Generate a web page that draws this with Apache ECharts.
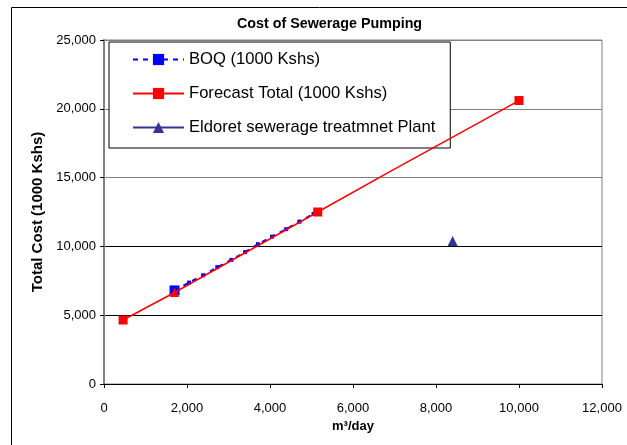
<!DOCTYPE html>
<html>
<head>
<meta charset="utf-8">
<script src="https://cdn.jsdelivr.net/npm/echarts@6/dist/echarts.min.js"></script>
<style>html,body{margin:0;padding:0;background:#fff;}#c{width:627px;height:445px;}</style>
</head>
<body>
<div id="c"></div>
<script>
// ---- data ----
var titleText = 'Cost of Sewerage Pumping';
var xAxisName = 'm³/day';
var yAxisName = 'Total Cost (1000 Kshs)';
var seriesNames = ['BOQ (1000 Kshs)', 'Forecast Total (1000 Kshs)', 'Eldoret sewerage treatmnet Plant'];
var boqX = [1700, 2050, 2390, 2730, 3070, 3400, 3710, 4050, 4390, 4710, 5050];
var boqY = [6800, 7370, 7900, 8490, 9020, 9580, 10160, 10710, 11250, 11800, 12360];
var forecastX = [460, 1700, 5150, 6900, 10000];
var forecastY = [4650, 6650, 12500, 15450, 20600];
var forecastMarked = [true, true, true, false, true];
var eldoretX = [8400];
var eldoretY = [10400];
var xTicks = [0, 2000, 4000, 6000, 8000, 10000, 12000];
var yTicks = [0, 5000, 10000, 15000, 20000, 25000];

function fmt(v){ return String(v).replace(/\B(?=(\d{3})+(?!\d))/g, ','); }
function pairs(xs, ys){ return xs.map(function(x,i){ return [x, ys[i]]; }); }

var FONT = '"Liberation Sans", Arial, sans-serif';
var chart = echarts.init(document.getElementById('c'), null, {renderer:'canvas'});

var boqData = pairs(boqX, boqY).map(function(p, i){
  return {value: p, symbolSize: i === 0 ? 10 : 4};
});
var fcData = pairs(forecastX, forecastY).map(function(p, i){
  var d = {value: p};
  if (!forecastMarked[i]) { d.symbol = 'none'; d.symbolSize = 0; }
  if (i === 1) { d.symbol = 'triangle'; d.symbolSize = 9; }
  return d;
});

chart.setOption({
  animation: false,
  backgroundColor: '#fff',
  title: {
    text: titleText, left: 232, top: 12,
    textStyle: {fontFamily: FONT, fontSize: 14.3, fontWeight: 'bold', color: '#000'}
  },
  graphic: [{
    type: 'rect', left: 9, top: 5, z: -10, silent: true,
    shape: {width: 616, height: 460},
    style: {fill: 'none', stroke: '#000', lineWidth: 1}
  }],
  legend: {
    orient: 'vertical', left: 109, top: 42,
    backgroundColor: '#fff', borderColor: '#000', borderWidth: 1,
    padding: [9, 15, 12, 23],
    itemWidth: 51, itemHeight: 14, itemGap: 17,
    textStyle: {fontFamily: FONT, fontSize: 16.6, color: '#000', lineHeight: 15},
    data: seriesNames
  },
  grid: {
    left: 104, right: 25, top: 40, bottom: 61,
    show: true, borderColor: '#808080', borderWidth: 1, backgroundColor: '#fff'
  },
  xAxis: {
    type: 'value', min: 0, max: 12000, interval: 2000,
    name: xAxisName, nameLocation: 'middle', nameGap: 35,
    nameTextStyle: {fontFamily: FONT, fontSize: 13, fontWeight: 'bold', color: '#000'},
    axisLine: {show: true, onZero: false, lineStyle: {color: '#000', width: 1}},
    axisTick: {show: true, length: 4, lineStyle: {color: '#000'}},
    axisLabel: {fontFamily: FONT, fontSize: 13, color: '#000', margin: 18, formatter: fmt},
    splitLine: {show: false}
  },
  yAxis: {
    type: 'value', min: 0, max: 25000, interval: 5000,
    name: yAxisName, nameLocation: 'middle', nameGap: 58, nameRotate: 90,
    nameTextStyle: {fontFamily: FONT, fontSize: 15, fontWeight: 'bold', color: '#000'},
    axisLine: {show: true, lineStyle: {color: '#808080', width: 2}},
    axisTick: {show: true, length: 4, lineStyle: {color: '#000'}},
    axisLabel: {fontFamily: FONT, fontSize: 13, color: '#000', margin: 8, formatter: fmt},
    splitLine: {show: true, lineStyle: {color: ['#000', '#000', '#000', '#808080', '#808080', '#808080'], width: 1}}
  },
  series: [
    {
      name: seriesNames[0], type: 'line', data: boqData, z: 3,
      symbol: 'rect', symbolSize: 4,
      itemStyle: {color: '#0000ff'},
      lineStyle: {color: '#0000ff', width: 2, type: [5, 5]}
    },
    {
      name: seriesNames[1], type: 'line', data: fcData, z: 4,
      symbol: 'rect', symbolSize: 9,
      itemStyle: {color: '#ff0000'},
      lineStyle: {color: '#ff0000', width: 1.5}
    },
    {
      name: seriesNames[2], type: 'line', data: pairs(eldoretX, eldoretY), z: 5,
      symbol: 'triangle', symbolSize: 10,
      itemStyle: {color: '#333399'},
      lineStyle: {color: '#333399', width: 1.5}
    }
  ]
});
</script>
</body>
</html>
